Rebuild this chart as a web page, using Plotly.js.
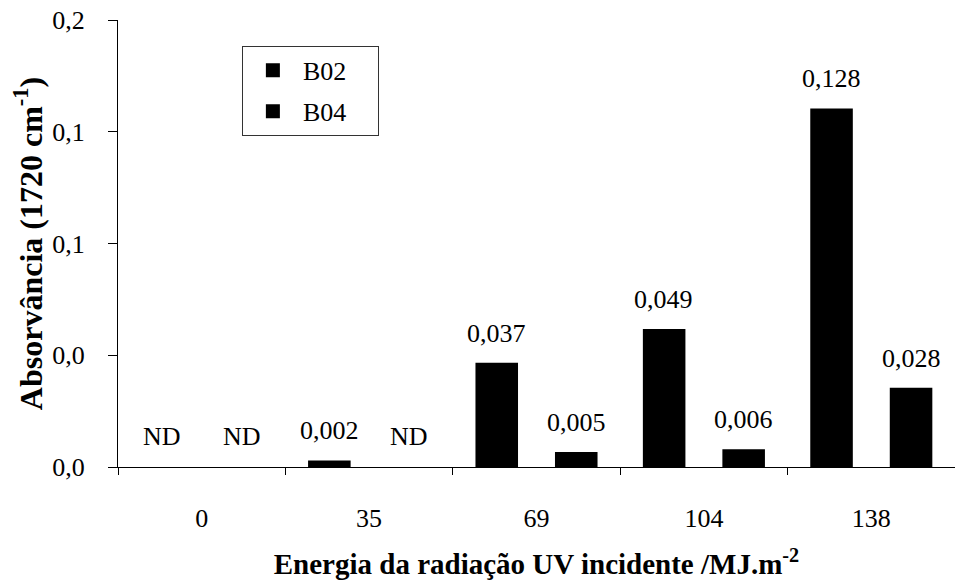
<!DOCTYPE html>
<html>
<head>
<meta charset="utf-8">
<script src="https://cdn.plot.ly/plotly-3.0.1.min.js"></script>
<style>html,body{margin:0;padding:0;background:#fff;}#chart{width:955px;height:580px;}</style>
</head>
<body>
<div id="chart"></div>
<script>
const categories = ["0", "35", "69", "104", "138"];
const seriesNames = ["B02", "B04"];
// null = not detected (ND)
const b02Values = [null, 0.002, 0.037, 0.049, 0.128];
const b04Values = [null, null, 0.005, 0.006, 0.028];
const b02Labels = ["ND", "0,002", "0,037", "0,049", "0,128"];
const b04Labels = ["ND", "ND", "0,005", "0,006", "0,028"];
const yTickVals = [0, 0.04, 0.08, 0.12, 0.16];
const yTickText = ["0,0", "0,0", "0,1", "0,1", "0,2"];

const FONT = "Liberation Serif, Times New Roman, serif";
const PAD = "&nbsp;&nbsp;&nbsp;&nbsp;";

const traces = [
  {type: "bar", name: seriesNames[0] + PAD, x: categories, y: b02Values, legendgroup: "a",
   marker: {color: "#000", line: {color: "#000", width: 2}}, hoverinfo: "none"},
  {type: "bar", name: seriesNames[1] + PAD, x: categories, y: b04Values, legendgroup: "b",
   marker: {color: "#000", line: {color: "#000", width: 2}}, hoverinfo: "none"}
];

const annotations = [];
const offs = [-40, 40];
[[b02Values, b02Labels], [b04Values, b04Labels]].forEach(([vals, labs], si) => {
  vals.forEach((v, i) => {
    annotations.push({x: i, y: (v === null ? 0 : v), xref: "x", yref: "y", text: labs[i],
      showarrow: false, xshift: offs[si], yshift: 14, yanchor: "bottom",
      font: {family: FONT, size: 26, color: "#000"}});
  });
});

const layout = {
  width: 955, height: 580,
  margin: {l: 118, r: 0, t: 20, b: 113},
  paper_bgcolor: "#fff", plot_bgcolor: "#fff",
  font: {family: FONT, size: 26, color: "#000"},
  barmode: "group", bargap: 0.05, bargroupgap: 0.49,
  showlegend: true,
  legend: {x: 0.148, y: 0.942, xanchor: "left", yanchor: "top",
    bgcolor: "#fff", bordercolor: "#333", borderwidth: 1,
    font: {family: FONT, size: 26, color: "#000"},
    traceorder: "grouped", tracegroupgap: 4, itemwidth: 50},
  xaxis: {type: "category", range: [-0.5, 4.5], showline: true, linecolor: "#000", linewidth: 1,
    ticks: "outside", tickson: "boundaries", ticklen: 7, tickcolor: "#000",
    showgrid: false, zeroline: false, automargin: false, ticklabelstandoff: 28,
    tickfont: {family: FONT, size: 26, color: "#000"},
    title: {text: "<b>Energia da radiação UV incidente /MJ.m<sup>-2</sup></b>", standoff: 22,
      font: {family: FONT, size: 29, color: "#000"}}},
  yaxis: {range: [0, 0.16], tickvals: yTickVals, ticktext: yTickText, showline: true,
    linecolor: "#000", linewidth: 1, ticks: "outside", ticklen: 9, tickcolor: "#000",
    showgrid: false, zeroline: false, automargin: false, ticklabelstandoff: 18,
    tickfont: {family: FONT, size: 26, color: "#000"},
    title: {text: "<b>Absorvância (1720 cm<sup>-1</sup>)</b>", standoff: 0,
      font: {family: FONT, size: 32, color: "#000"}}},
  annotations: annotations
};

Plotly.newPlot("chart", traces, layout, {displayModeBar: false, staticPlot: true});
</script>
</body>
</html>
